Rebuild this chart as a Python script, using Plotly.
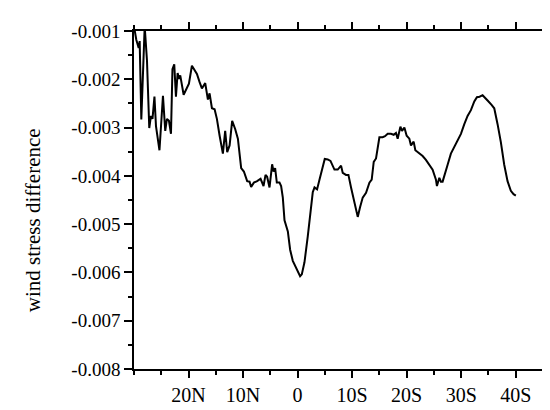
import plotly.graph_objects as go

# latitude in degrees (positive = South, negative = North)
lat = [-30.00, -29.58, -29.14, -28.96, -28.66, -28.22, -28.04, -27.62, -27.20, -26.89,
       -26.61, -26.25, -25.97, -25.33, -24.69, -24.27, -23.96, -23.59, -23.22, -22.95,
       -22.62, -22.31, -22.00, -21.76, -21.52, -20.90, -20.42, -19.93, -19.38, -19.01,
       -18.46, -17.97, -17.55, -16.94, -16.45, -16.14, -15.71, -15.22, -14.80, -14.30,
       -13.70, -13.28, -12.91, -12.47, -12.00, -11.45, -10.95, -10.35, -9.85, -9.25,
       -8.81, -8.52, -8.02, -7.42, -6.79, -6.25, -5.88, -5.59, -5.15, -4.67,
       -4.41, -4.12, -3.81, -3.32, -3.02, -2.71, -2.40, -1.79, -1.37, -0.88,
       -0.27, 0.22, 0.46, 0.77, 1.26, 1.87, 2.36, 2.78, 3.10, 3.57,
       4.01, 4.62, 4.98, 5.53, 6.03, 6.76, 7.36, 7.97, 8.28, 8.88,
       9.32, 9.80, 10.42, 11.03, 11.45, 11.94, 12.55, 13.17, 13.59, 13.96,
       14.38, 15.00, 15.60, 16.03, 16.52, 17.12, 17.62, 18.04, 18.35, 18.85,
       19.14, 19.58, 20.00, 20.49, 20.79, 21.28, 21.59, 22.33, 22.93, 23.53,
       24.16, 24.76, 25.37, 25.55, 25.99, 26.28, 26.59, 27.01, 27.51, 28.11,
       28.74, 29.47, 29.95, 30.57, 31.17, 31.78, 32.40, 32.88, 33.37, 33.92,
       34.34, 34.84, 35.57, 36.06, 36.67, 37.27, 37.89, 38.50, 39.10, 39.60,
       40.02]

# wind stress difference, in units of 0.001
diff_milli = [-0.905, -1.18, -1.35, -1.21, -2.83, -1.21, -0.905, -1.61, -3.01, -2.76,
              -2.82, -2.36, -2.97, -3.47, -2.34, -3.07, -2.82, -2.86, -3.13, -1.79,
              -1.69, -2.36, -1.87, -1.99, -1.92, -2.32, -2.22, -2.09, -1.72, -1.79,
              -1.89, -2.06, -2.19, -2.08, -2.42, -2.29, -2.60, -2.62, -2.82, -3.17,
              -3.54, -3.07, -3.51, -3.37, -2.86, -3.03, -3.23, -3.84, -3.91, -4.11,
              -4.12, -4.23, -4.14, -4.11, -4.06, -4.21, -3.98, -4.02, -4.24, -3.76,
              -3.91, -3.84, -4.14, -4.14, -4.21, -4.45, -4.92, -5.15, -5.53, -5.76,
              -5.90, -6.04, -6.08, -6.04, -5.79, -5.25, -4.75, -4.34, -4.24, -4.28,
              -4.08, -3.77, -3.65, -3.66, -3.69, -3.87, -3.87, -3.79, -3.94, -3.98,
              -3.98, -4.24, -4.55, -4.85, -4.65, -4.45, -4.35, -4.14, -4.08, -3.71,
              -3.64, -3.20, -3.20, -3.18, -3.13, -3.13, -3.15, -3.11, -3.23, -2.98,
              -3.07, -3.00, -3.17, -3.23, -3.37, -3.29, -3.47, -3.54, -3.59, -3.67,
              -3.76, -3.87, -4.08, -4.21, -4.04, -4.12, -4.12, -3.98, -3.77, -3.54,
              -3.40, -3.27, -3.13, -2.93, -2.76, -2.64, -2.46, -2.37, -2.36, -2.33,
              -2.39, -2.44, -2.53, -2.60, -2.93, -3.30, -3.77, -4.11, -4.31, -4.38,
              -4.41]

diff = [v * 0.001 for v in diff_milli]

x_tickvals = [-20, -10, 0, 10, 20, 30, 40]
x_ticktext = ["20N", "10N", "0", "10S", "20S", "30S", "40S"]
y_tickvals = [-0.001, -0.002, -0.003, -0.004, -0.005, -0.006, -0.007, -0.008]
y_ticktext = ["-0.001", "-0.002", "-0.003", "-0.004", "-0.005", "-0.006", "-0.007", "-0.008"]
y_title = "wind stress difference"

font_family = "Liberation Serif, Times New Roman, serif"

fig = go.Figure()
fig.add_trace(go.Scatter(x=lat, y=diff, mode="lines",
                         line=dict(color="black", width=2),
                         showlegend=False))

fig.update_layout(
    width=550, height=410,
    margin=dict(l=126, r=15, t=23, b=41),
    plot_bgcolor="white", paper_bgcolor="white",
    font=dict(family=font_family, size=20, color="black"),
)

fig.update_xaxes(
    range=[-30, 45], tickvals=x_tickvals, ticktext=x_ticktext,
    showgrid=False, zeroline=False,
    showline=True, linecolor="black", linewidth=1.5, mirror="allticks",
    ticks="outside", ticklen=7, tickwidth=1.5, tickcolor="black",
    minor=dict(dtick=5, tick0=0, ticks="outside", ticklen=4, tickwidth=1.5, tickcolor="black"),
    tickfont=dict(size=20, family=font_family),
)
fig.update_yaxes(
    range=[-0.008, -0.001], tickvals=y_tickvals, ticktext=y_ticktext,
    showgrid=False, zeroline=False,
    showline=True, linecolor="black", linewidth=1.5, mirror=True,
    ticks="outside", ticklen=8, tickwidth=1.5, tickcolor="black",
    minor=dict(dtick=0.0005, tick0=0, ticks="outside", ticklen=4, tickwidth=1.5, tickcolor="black"),
    tickfont=dict(size=19, family=font_family),
)

fig.add_annotation(
    text=y_title, textangle=-90, showarrow=False,
    xref="paper", yref="paper", x=-0.247, y=0.44,
    xanchor="center", yanchor="middle",
    font=dict(size=21, family=font_family, color="black"),
)

fig.write_html("out.html")
